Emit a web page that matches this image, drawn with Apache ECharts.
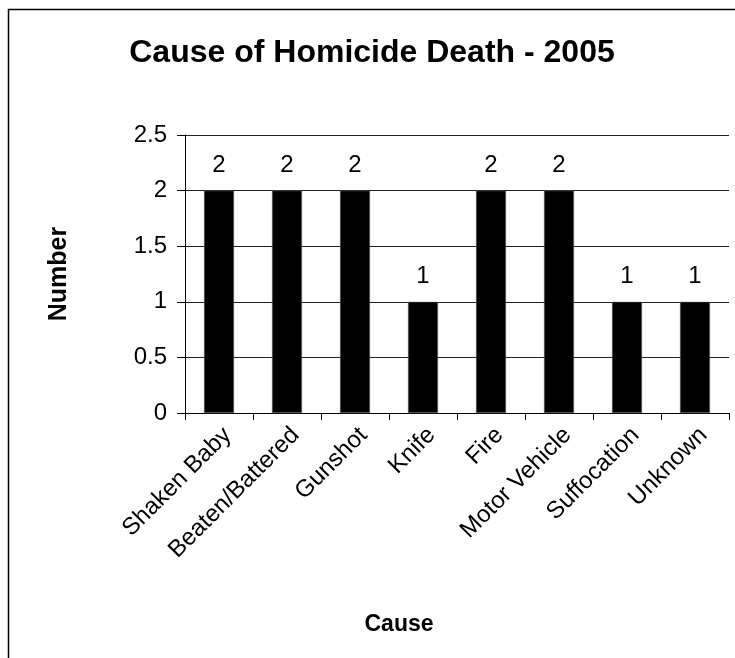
<!DOCTYPE html>
<html>
<head>
<meta charset="utf-8">
<script src="https://cdn.jsdelivr.net/npm/echarts@6/dist/echarts.min.js"></script>
<style>
  html, body { margin: 0; padding: 0; background: #fff; }
  #chart { width: 735px; height: 658px; }
</style>
</head>
<body>
<div id="chart"></div>
<script>
// Homicide causes, 2005
const categories = ['Shaken Baby', 'Beaten/Battered', 'Gunshot', 'Knife', 'Fire', 'Motor Vehicle', 'Suffocation', 'Unknown'];
const counts = [2, 2, 2, 1, 2, 2, 1, 1];
const yTicks = [0, 0.5, 1, 1.5, 2, 2.5];

const FONT = '"Liberation Sans", Arial, sans-serif';

const chart = echarts.init(document.getElementById('chart'), null, { renderer: 'canvas' });

chart.setOption({
  animation: false,
  backgroundColor: '#fff',
  textStyle: { fontFamily: FONT, color: '#000' },
  title: {
    text: 'Cause of Homicide Death - 2005',
    left: 367,
    textAlign: 'center',
    top: 32,
    textStyle: { fontFamily: FONT, fontSize: 32, fontWeight: 'bold', color: '#000' }
  },
  graphic: [{
    type: 'rect',
    shape: { x: 8.5, y: 9.5, width: 900, height: 900 },
    style: { fill: 'none', stroke: '#000', lineWidth: 1.5 },
    silent: true
  }],
  grid: { left: 185, right: 6, top: 135, bottom: 245, containLabel: false },
  xAxis: {
    type: 'category',
    data: categories,
    name: 'Cause',
    nameLocation: 'middle',
    nameGap: 200,
    nameTextStyle: { fontFamily: FONT, fontSize: 23, fontWeight: 'bold', color: '#000', padding: [0, 116, 0, 0] },
    axisLine: { lineStyle: { color: '#000', width: 1 } },
    axisTick: { show: true, alignWithLabel: false, length: 7, lineStyle: { color: '#000' } },
    axisLabel: { rotate: 45, fontSize: 24, color: '#000', fontFamily: FONT, margin: 10, interval: 0, verticalAlign: 'top' },
    splitLine: { show: false }
  },
  yAxis: {
    type: 'value',
    min: yTicks[0],
    max: yTicks[yTicks.length - 1],
    interval: yTicks[1] - yTicks[0],
    name: 'Number',
    nameLocation: 'middle',
    nameRotate: 90,
    nameGap: 113,
    nameTextStyle: { fontFamily: FONT, fontSize: 25, fontWeight: 'bold', color: '#000' },
    axisLine: { show: true, lineStyle: { color: '#000', width: 1 } },
    axisTick: { show: true, length: 8, lineStyle: { color: '#000' } },
    axisLabel: { fontSize: 24, color: '#000', fontFamily: FONT, margin: 18 },
    splitLine: { show: true, lineStyle: { color: '#222', width: 1 } }
  },
  series: [{
    type: 'bar',
    data: counts,
    barWidth: 30,
    itemStyle: { color: '#000', borderColor: '#777', borderWidth: 0.5 },
    label: {
      show: true,
      position: 'top',
      distance: 13,
      fontSize: 24,
      color: '#000',
      fontFamily: FONT
    }
  }]
});
</script>
</body>
</html>
